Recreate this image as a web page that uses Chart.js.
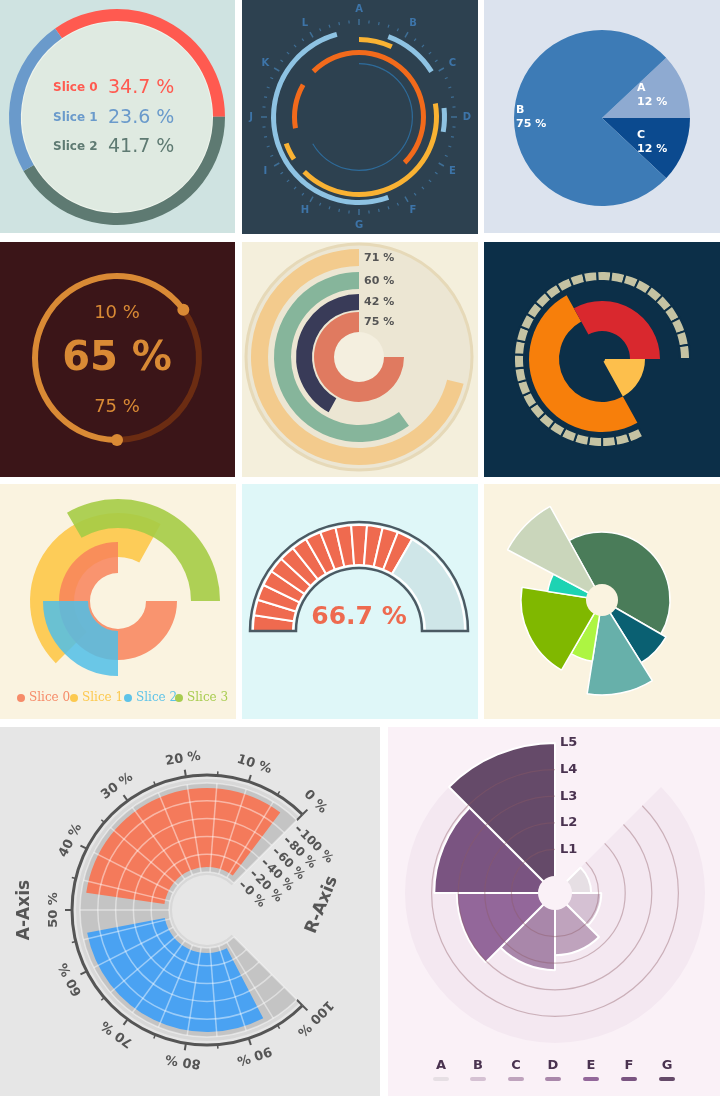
<!DOCTYPE html><html><head><meta charset="utf-8">
<script src="https://cdn.jsdelivr.net/npm/chart.js@4"></script>
<style>body{margin:0;background:#fff;width:720px;height:1096px;position:relative;overflow:hidden}
.p{position:absolute;overflow:hidden}.p canvas{position:absolute;left:0;top:0}</style></head><body>
<script>
// ---------- DATA ----------
const p1Labels=['Slice 0','Slice 1','Slice 2'];
const p1Values=[34.7,23.6,41.7];
const p2Letters=['A','B','C','D','E','F','G','H','I','J','K','L'];
const p2Outer=[[160,345],[20,58],[84,100]];
const p2Yellow=[[0,25],[80,225],[237,250]];
const p2Orange=[[315,495],[260,300]];
const p2Thin=[[0,240]];
const p3Labels=['A','C','B'];
const p3Values=[12,12,75];
const p4Values=[10,65,75];
const p5Labels=['71 %','60 %','42 %','75 %'];
const p5Values=[71,60,42,75];
const p6Red=[-29,90], p6Yellow=[90,151], p6Orange=[151,331], p6Blocks=32, p6BlockSpan=[152,450];
const p7Labels=['Slice 0','Slice 1','Slice 2','Slice 3'];
const p7Arcs=[[90,360],[225,389],[180,270],[-30,90]];
const p8Value=66.7, p8Segments=14;
const p9Angles=[149,28,41,21,69,19,33];
const p9Values=[68,74,95,62,81,55,107];
const p10AxisTicks=[0,10,20,30,40,50,60,70,80,90,100];
const p10RTicks=[0,20,40,60,80,100];
const p10Series1=[3,47], p10Series2=[54,93.5];
const p12Labels=['A','B','C','D','E','F','G'];
const p12Values=[0.72,1.1,1.7,2.26,3.05,3.9,5];
const p12Levels=['L1','L2','L3','L4','L5'];

// ---------- HELPERS ----------
Chart.defaults.font.family='DejaVu Sans';
function panel(x,y,w,h,bg){const d=document.createElement('div');d.className='p';Object.assign(d.style,{left:x+'px',top:y+'px',width:w+'px',height:h+'px',background:bg});document.body.appendChild(d);return {d,w,h};}
function canvasIn(p){const c=document.createElement('canvas');c.width=p.w;c.height=p.h;c.style.width=p.w+'px';c.style.height=p.h+'px';p.d.appendChild(c);return c;}
const T='rgba(0,0,0,0)';
function ring(p,cx,cy,outer,inner,segs,opt={}){
  const base=segs[0][0];
  const arr=segs.map(s=>{let a=s[0],b=s[1];while(a<base)a+=360;while(a>=base+360)a-=360;b=a+(s[1]-s[0]);return [a,b,s[2]];}).sort((u,v)=>u[0]-v[0]);
  const data=[],colors=[],borders=[];let cur=base;
  for(const [a,b,c] of arr){if(a>cur+1e-6){data.push(a-cur);colors.push(T);borders.push(T);}data.push(b-a);colors.push(c);borders.push(opt.bc||'#fff');cur=b;}
  if(cur<base+360-1e-6){data.push(base+360-cur);colors.push(T);borders.push(T);}
  const c=canvasIn(p);
  const pad={left:Math.max(0,2*cx-p.w),right:Math.max(0,p.w-2*cx),top:Math.max(0,2*cy-p.h),bottom:Math.max(0,p.h-2*cy)};
  return new Chart(c,{type:'doughnut',data:{datasets:[{data,backgroundColor:colors,borderColor:borders,borderWidth:opt.bw||0,borderJoinStyle:'miter'}]},
    options:{responsive:false,animation:false,events:[],rotation:base,radius:outer,cutout:(inner/outer*100)+'%',layout:{padding:pad},plugins:{legend:{display:false},tooltip:{enabled:false}}},
    plugins:opt.plugins||[]});
}
function txt(ctx,s,x,y,font,color,align='center',rot=0){ctx.save();ctx.translate(x,y);ctx.rotate(rot*Math.PI/180);ctx.font=font;ctx.fillStyle=color;ctx.textAlign=align;ctx.textBaseline='middle';ctx.fillText(s,0,0);ctx.restore();}
function ctr(chart){const e=chart.getDatasetMeta(0).data[0];return {x:e.x,y:e.y};}
function pol(c,r,deg){const a=(deg-90)*Math.PI/180;return [c.x+r*Math.cos(a),c.y+r*Math.sin(a)];}
function arcPath(ctx,c,r,d0,d1){ctx.arc(c.x,c.y,r,(d0-90)*Math.PI/180,(d1-90)*Math.PI/180);}

// ---------- PANEL 1 ----------
{const p=panel(0,0,235,233,'#cfe3e1');
 const cols=['#ff5a50','#6a9acb','#5e7a72'];
 const a0=-35,a1=a0+p1Values[0]*3.6,a2=a1+p1Values[2]*3.6,a3=a2+p1Values[1]*3.6;
 ring(p,117,117,108,96,[[a0,a1,cols[0]],[a1,a2,cols[2]],[a2,a3,cols[1]]],{plugins:[{id:'p1',beforeDatasetsDraw(ch){const ctx=ch.ctx,c=ctr(ch);ctx.beginPath();ctx.arc(c.x,c.y,96,0,7);ctx.fillStyle='#dfeae1';ctx.fill();ctx.strokeStyle='#eef4ec';ctx.lineWidth=2;ctx.stroke();},
 afterDraw(ch){const ctx=ch.ctx;const ys=[88,118,147];p1Labels.forEach((l,i)=>{txt(ctx,l,53,ys[i],'bold 12px DejaVu Sans',cols[i],'left');txt(ctx,p1Values[i].toFixed(1)+' %',108,ys[i],'19px DejaVu Sans',cols[i],'left');});}}]});
}
// ---------- PANEL 2 ----------
{const p=panel(242,0,236,234,'#2d4150');const cx=117,cy=117;
 ring(p,cx,cy,88,83,p2Outer.map(s=>[s[0],s[1],'#8ec3e3']),{plugins:[{id:'p2',beforeDatasetsDraw(ch){const ctx=ch.ctx,c=ctr(ch);ctx.strokeStyle='#3f6f96';for(let i=0;i<60;i++){const maj=i%5==0;const [x0,y0]=pol(c,maj?92:94,i*6),[x1,y1]=pol(c,maj?98:97,i*6);ctx.lineWidth=maj?1.5:1.2;ctx.beginPath();ctx.moveTo(x0,y0);ctx.lineTo(x1,y1);ctx.stroke();}
 p2Letters.forEach((l,i)=>{const [x,y]=pol(c,108,i*30);txt(ctx,l,x,y,'bold 10px DejaVu Sans','#3d74a8');});}}]});
 ring(p,cx,cy,80,75,p2Yellow.map(s=>[s[0],s[1],'#f9b233']));
 ring(p,cx,cy,67,62,p2Orange.map(s=>[s[0],s[1],'#f26a1b']));
 ring(p,cx,cy,54,52.8,p2Thin.map(s=>[s[0],s[1],'#2e6b9a']));
}
// ---------- PANEL 3 ----------
{const p=panel(484,0,236,233,'#dce3ee');const cols=['#8eaad1','#0b4a8f','#3d7bb6'];
 let a=90-p3Values[0]*3.6;const segs=[];p3Values.forEach((v,i)=>{segs.push([a,a+v*3.6+(i==2?3.6:0),cols[i]]);a+=v*3.6;});
 ring(p,118,118,88,0,segs,{plugins:[{id:'p3',afterDraw(ch){const ctx=ch.ctx;const pos=[[153,88],[153,135],[32,110]];p3Labels.forEach((l,i)=>{txt(ctx,l,pos[i][0],pos[i][1],'bold 11px DejaVu Sans','#fff','left');txt(ctx,p3Values[i]+' %',pos[i][0],pos[i][1]+14,'bold 11px DejaVu Sans','#fff','left');});}}]});
}
// ---------- PANEL 4 ----------
{const p=panel(0,242,235,235,'#3b1518');const s=180,e=s+p4Values[1]*3.6;
 ring(p,117,116,85,79,[[s,e,'#d98a35'],[e,s+360,'#6b2c12']],{plugins:[{id:'p4',afterDraw(ch){const ctx=ch.ctx,c=ctr(ch);[s,e].forEach(d=>{const [x,y]=pol(c,82,d);ctx.beginPath();ctx.arc(x,y,6,0,7);ctx.fillStyle='#d98a35';ctx.fill();});
 txt(ctx,p4Values[0]+' %',c.x,c.y-45,'18px DejaVu Sans','#d98a35');txt(ctx,p4Values[1]+' %',c.x,c.y+2,'bold 40px DejaVu Sans','#d98a35');txt(ctx,p4Values[2]+' %',c.x,c.y+49,'18px DejaVu Sans','#d98a35');}}]});
}
// ---------- PANEL 5 ----------
{const p=panel(242,242,236,235,'#f4efdc');const cx=117,cy=115;const cols=['#f3cb8d','#86b59b','#393b58','#e07a60'];const radii=[[108,91],[85,68],[63,47],[45,25]];
 p5Values.forEach((v,i)=>{const pl=i==0?[{id:'p5',beforeDatasetsDraw(ch){const ctx=ch.ctx,c=ctr(ch);ctx.beginPath();ctx.arc(c.x,c.y,113,0,7);ctx.fillStyle='#ece6d3';ctx.fill();ctx.strokeStyle='#e6d9b8';ctx.lineWidth=3;ctx.stroke();ctx.beginPath();ctx.arc(c.x,c.y,25,0,7);ctx.fillStyle='#f4efdf';ctx.fill();},
 afterDraw(ch){}}]:(i==3?[{id:'p5t',afterDraw(ch){const ctx=ch.ctx;const ys=[16,39,60,80];p5Labels.forEach((l,k)=>txt(ctx,l,122,ys[k],'bold 11px DejaVu Sans','#555','left'));}}]:[]);
  ring(p,cx,cy,radii[i][0],radii[i][1],[[360-v*3.6,360,cols[i]]],{plugins:pl});});
}
// ---------- PANEL 6 ----------
{const p=panel(484,242,236,235,'#0c2f48');const cx=118,cy=117;
 const step=(p6BlockSpan[1]-p6BlockSpan[0])/p6Blocks;const blocks=[];for(let i=0;i<p6Blocks;i++)blocks.push([p6BlockSpan[0]+i*step,p6BlockSpan[0]+(i+1)*step,'#c5c3a3']);
 ring(p,cx,cy,88,78,blocks,{bw:2,bc:'#0c2f48'});
 ring(p,cx,cy,73,43,[[p6Orange[0],p6Orange[1],'#f77f0b']]);
 ring(p,cx,cy,58,28,[[p6Red[0],p6Red[1],'#d9282e']]);
 ring(p,cx,cy,43,3,[[p6Yellow[0],p6Yellow[1],'#fdbf4c']]);
}
// ---------- PANEL 7 ----------
{const p=panel(0,484,236,235,'#faf3e0');const cx=118,cy=117;const cols=['rgba(248,130,90,0.85)','rgba(253,196,63,0.85)','rgba(80,190,232,0.85)','rgba(165,204,70,0.9)'];const solid=['#f68b69','#fcc94f','#5ec3e8','#a8cc50'];
 const radii=[[59,28],[88,44],[75,30],[102,73]];
 [1,3,0,2].forEach((i,k)=>{ring(p,cx,cy,radii[i][0],radii[i][1],[[p7Arcs[i][0],p7Arcs[i][1],cols[i]]],{plugins:k==3?[{id:'p7',afterDraw(ch){const ctx=ch.ctx;const xs=[21,74,128,179];p7Labels.forEach((l,j)=>{ctx.beginPath();ctx.arc(xs[j],214,4,0,7);ctx.fillStyle=solid[j];ctx.fill();txt(ctx,l,xs[j]+8,214,'12px DejaVu Serif',solid[j],'left');});}}]:[]});});
}
// ---------- PANEL 8 ----------
{const p=panel(242,484,236,235,'#dff7f8');const cx=117,cy=147;const end=270+p8Value/100*180;const segs=[];const st=(end-270)/p8Segments;
 for(let i=0;i<p8Segments;i++)segs.push([270+i*st,270+(i+1)*st,'#ef6a4f']);segs.push([end,450,'#cfe6e8']);
 ring(p,cx,cy,106,66,segs,{bw:2,bc:'#ffffff',plugins:[{id:'p8',afterDraw(ch){const ctx=ch.ctx,c=ctr(ch);ctx.strokeStyle='#4b5a63';ctx.lineWidth=2.5;ctx.beginPath();ctx.arc(c.x,c.y,109,Math.PI,2*Math.PI);ctx.lineTo(c.x+63,c.y);ctx.arc(c.x,c.y,63,0,Math.PI,true);ctx.closePath();ctx.stroke();
 txt(ctx,p8Value.toFixed(1)+' %',c.x,c.y-14,'bold 25px DejaVu Sans','#ee6a4f');}}]});
}
// ---------- PANEL 9 ----------
{const p=panel(484,484,236,235,'#faf3e0');const c=canvasIn(p);const cx=118,cy=116,R=110;
 new Chart(c,{type:'polarArea',data:{labels:p9Values.map((v,i)=>'S'+i),datasets:[{data:p9Values,angle:ctx=>p9Angles[ctx.dataIndex],backgroundColor:['#4a7c59','#0a6072','#67b0aa','#adf542','#80b800','#1dd3b3','#cad6bb'],borderColor:'#fff',borderWidth:1.5}]},
 options:{responsive:false,animation:false,events:[],startAngle:-29,layout:{padding:{left:cx-R,right:p.w-cx-R,top:cy-R,bottom:p.h-cy-R}},scales:{r:{min:0,max:110,startAngle:-29,display:false,ticks:{display:false}}},plugins:{legend:{display:false},tooltip:{enabled:false}}},
 plugins:[{id:'p9',afterDatasetsDraw(ch){const s=ch.scales.r,ctx=ch.ctx;ctx.beginPath();ctx.arc(s.xCenter,s.yCenter,16,0,7);ctx.fillStyle='#faf3e0';ctx.fill();}}]});
}
// ---------- PANEL 10 ----------
{const p=panel(0,727,380,369,'#e6e6e6');const cx=207,cy=183;const th=v=>45-v*2.7;
 ring(p,cx,cy,131,35,[[th(100)+360,th(0)+360,'#d8d8d8']],{plugins:[{id:'p10',afterDraw(ch){const ctx=ch.ctx,c=ctr(ch);const col='#555';
  ctx.strokeStyle=col;ctx.lineWidth=3;ctx.beginPath();arcPath(ctx,c,135,th(100)+360,th(0)+360);ctx.stroke();
  ctx.lineWidth=2;[0,100].forEach(v=>{const a=pol(c,135,th(v)),b=pol(c,127,th(v));ctx.beginPath();ctx.moveTo(a[0],a[1]);ctx.lineTo(b[0],b[1]);ctx.stroke();});
  for(let v=0;v<=100;v+=5){const maj=v%10==0;const a=pol(c,135,th(v)),b=pol(c,maj?142:139,th(v));ctx.lineWidth=maj?2:1.5;ctx.beginPath();ctx.moveTo(a[0],a[1]);ctx.lineTo(b[0],b[1]);ctx.stroke();}
  p10AxisTicks.forEach(v=>{const [x,y]=pol(c,153,th(v));txt(ctx,v+' %',x,y,'bold 13px DejaVu Sans',col,'center',th(v));});
  p10RTicks.forEach(v=>{const r=43+79*v/100;const b=pol(c,r,45);const n=[0.707,0.707];ctx.lineWidth=2;ctx.beginPath();ctx.moveTo(b[0]+n[0]*5,b[1]+n[1]*5);ctx.lineTo(b[0]+n[0]*10,b[1]+n[1]*10);ctx.stroke();
   txt(ctx,v+' %',b[0]+n[0]*12,b[1]+n[1]*12,'bold 12px DejaVu Sans',col,'left',45);});
  txt(ctx,'A-Axis',25,183,'bold 17px DejaVu Sans',col,'center',-90);
  txt(ctx,'R-Axis',322,178,'bold 17px DejaVu Sans',col,'center',-68);}}]});
 ring(p,cx,cy,127,38,[[th(100)+360,th(0)+360,'#c4c4c4']]);
 ring(p,cx,cy,122,43,[[th(p10Series1[1]),th(p10Series1[0]),'#f47a5b'],[th(p10Series2[1])+360,th(p10Series2[0])+360,'#4aa2f2']],{plugins:[{id:'p10g',afterDraw(ch){const ctx=ch.ctx,c=ctr(ch);ctx.strokeStyle='rgba(255,255,255,0.45)';ctx.lineWidth=1.5;
  for(let k=0;k<=5;k++){const r=38+k*(127-38)/5;ctx.beginPath();arcPath(ctx,c,r,th(100)+360,th(0)+360);ctx.stroke();}
  for(let v=0;v<=100;v+=5){const a=pol(c,38,th(v)),b=pol(c,127,th(v));ctx.beginPath();ctx.moveTo(a[0],a[1]);ctx.lineTo(b[0],b[1]);ctx.stroke();}}}]});
}
// ---------- PANEL 12 ----------
{const p=panel(388,727,332,369,'#faf1f7');const c=canvasIn(p);const cx=167,cy=166,R=150;const cols=['#e6dfe4','#d5c1d3','#bfa3bd','#a987aa','#93679a','#7a5481','#654a69'];
 new Chart(c,{type:'polarArea',data:{labels:p12Labels,datasets:[{data:p12Values,angle:45,backgroundColor:cols,borderColor:'#fff',borderWidth:2}]},
 options:{responsive:false,animation:false,events:[],startAngle:45,layout:{padding:{left:cx-R,right:p.w-cx-R,top:cy-R,bottom:p.h-cy-R}},scales:{r:{min:-0.64,max:5,startAngle:45,display:false,ticks:{display:false}}},plugins:{legend:{display:false},tooltip:{enabled:false}}},
 plugins:[{id:'p12',beforeDatasetsDraw(ch){const s=ch.scales.r,ctx=ch.ctx,C={x:s.xCenter,y:s.yCenter};ctx.beginPath();ctx.moveTo(C.x,C.y);arcPath(ctx,C,s.getDistanceFromCenterForValue(5),45,360);ctx.closePath();ctx.fillStyle='#f4e8f1';ctx.fill();},
 afterDatasetsDraw(ch){const s=ch.scales.r,ctx=ch.ctx,C={x:s.xCenter,y:s.yCenter};ctx.strokeStyle='rgba(140,90,100,0.4)';ctx.lineWidth=1.2;
  for(let v=1;v<=4;v++){ctx.beginPath();arcPath(ctx,C,s.getDistanceFromCenterForValue(v),45,360);ctx.stroke();}
  ctx.beginPath();ctx.arc(C.x,C.y,s.getDistanceFromCenterForValue(0),0,7);ctx.fillStyle='#faf1f7';ctx.fill();
  p12Levels.forEach((l,i)=>txt(ctx,l,C.x+5,C.y-s.getDistanceFromCenterForValue(i+1),'bold 13px DejaVu Sans','#4a3350','left'));
  const xs=[53,90,128,165,203,241,279];p12Labels.forEach((l,i)=>{txt(ctx,l,xs[i],339,'bold 13px DejaVu Sans','#4a3350');ctx.fillStyle=cols[i];ctx.beginPath();ctx.roundRect(xs[i]-8,350,16,4,2);ctx.fill();});}}]});
}
</script></body></html>
